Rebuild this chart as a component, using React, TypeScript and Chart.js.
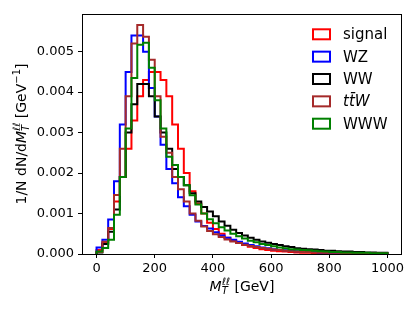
import React, { useEffect, useRef } from "react";
import { Chart, registerables } from "chart.js";

Chart.register(...registerables);

// Bin lower edges (GeV), bin width 20 GeV
const binLow = [
  0, 20, 40, 60, 80, 100, 120, 140, 160, 180, 200, 220, 240, 260, 280, 300, 320, 340, 360, 380,
  400, 420, 440, 460, 480, 500, 520, 540, 560, 580, 600, 620, 640, 660, 680, 700, 720, 740, 760, 780,
  800, 820, 840, 860, 880, 900, 920, 940, 960, 980,
];
const binHighEnd = 1000;

const xTicks = [0, 200, 400, 600, 800, 1000];
const yTicks = [0, 0.001, 0.002, 0.003, 0.004, 0.005];

const signal = [
  0.0001, 0.00027, 0.00062, 0.0013, 0.0019, 0.0026, 0.0033, 0.0039, 0.0043, 0.0045,
  0.0045, 0.0043, 0.0039, 0.0032, 0.0026, 0.002, 0.00155, 0.00125, 0.001, 0.00077,
  0.00062, 0.0005, 0.0004, 0.00033, 0.00027, 0.00022, 0.00018, 0.00015, 0.00012, 0.0001,
  0.00008, 0.00007, 0.00006, 0.00005, 0.00004, 0.00003, 0.00003, 0.00002, 0.00002, 0.00002,
  0.00001, 0.00001, 0.00001, 0.00001, 0.00001, 0.00001, 0.00001, 0.00001, 0.00001, 0.00001,
];
const wz = [
  0.00016, 0.00035, 0.00085, 0.0018, 0.0032, 0.0045, 0.0054, 0.0054, 0.005, 0.0041,
  0.0034, 0.0027, 0.0021, 0.00175, 0.0014, 0.00118, 0.00097, 0.0008, 0.00069, 0.00063,
  0.00054, 0.00046, 0.0004, 0.00035, 0.0003, 0.00026, 0.00022, 0.00019, 0.00016, 0.00014,
  0.00012, 0.0001, 0.00009, 0.00008, 0.00007, 0.00006, 0.00005, 0.00005, 0.00004, 0.00004,
  0.00003, 0.00003, 0.00003, 0.00002, 0.00002, 0.00002, 0.00002, 0.00001, 0.00001, 0.00001,
];
const ww = [
  0.00004, 0.00025, 0.00055, 0.0011, 0.0019, 0.003, 0.0037, 0.0042, 0.0042, 0.0039,
  0.0034, 0.003, 0.0026, 0.0021, 0.0019, 0.0017, 0.0015, 0.0013, 0.00116, 0.00105,
  0.00093, 0.0008, 0.0007, 0.0006, 0.00052, 0.00046, 0.0004, 0.00035, 0.00031, 0.00028,
  0.00025, 0.00022, 0.00019, 0.00017, 0.00014, 0.00013, 0.00012, 0.00011, 0.0001, 0.00008,
  0.00008, 0.00007, 0.00006, 0.00006, 0.00005, 0.00005, 0.00004, 0.00004, 0.00003, 0.00003,
];
const ttw = [
  0.00005, 0.0003, 0.00064, 0.00146, 0.0026, 0.0039, 0.0052, 0.00566, 0.00537, 0.0048,
  0.0039, 0.0029, 0.0025, 0.0019, 0.0016, 0.0013, 0.001, 0.00082, 0.00068, 0.00057,
  0.00049, 0.00042, 0.00036, 0.00031, 0.00027, 0.00023, 0.0002, 0.00017, 0.00015, 0.00013,
  0.00011, 0.0001, 0.00008, 0.00007, 0.00006, 0.00005, 0.00005, 0.00004, 0.00004, 0.00003,
  0.00003, 0.00003, 0.00002, 0.00002, 0.00002, 0.00002, 0.00001, 0.00001, 0.00001, 0.00001,
];
const www = [
  0.00006, 0.00015, 0.00035, 0.00097, 0.0019, 0.0031, 0.00435, 0.00517, 0.00522, 0.0046,
  0.0038, 0.0031, 0.0024, 0.0022, 0.0019, 0.0017, 0.00145, 0.00122, 0.001, 0.00086,
  0.00076, 0.00066, 0.00058, 0.0005, 0.00044, 0.00038, 0.00033, 0.00029, 0.00025, 0.00022,
  0.00019, 0.00016, 0.00014, 0.00012, 0.00011, 0.0001, 0.00009, 0.00008, 0.00007, 0.00006,
  0.00005, 0.00005, 0.00004, 0.00004, 0.00003, 0.00003, 0.00003, 0.00002, 0.00002, 0.00002,
];

const seriesLabels = ["signal", "WZ", "WW", "tt\u0304W", "WWW"];
const seriesColors = ["#ff0000", "#0000ff", "#000000", "#a52a2a", "#008000"];
const seriesValues = [signal, wz, ww, ttw, www];

const FONT = "DejaVu Sans";

function stepPoints(values: number[]) {
  const pts: { x: number; y: number }[] = [{ x: binLow[0], y: 0 }];
  values.forEach((v, i) => pts.push({ x: binLow[i], y: v }));
  pts.push({ x: binHighEnd, y: values[values.length - 1] });
  pts.push({ x: binHighEnd, y: 0 });
  return pts;
}

type Seg =
  | { kind: "t"; text: string; font: string; dy?: number }
  | { kind: "ss"; sub: string; sup: string; font: string; subDy: number; supDy: number };

function segWidth(ctx: CanvasRenderingContext2D, s: Seg) {
  ctx.font = s.font;
  if (s.kind === "t") return ctx.measureText(s.text).width;
  return Math.max(ctx.measureText(s.sub).width, ctx.measureText(s.sup).width);
}

function drawRich(ctx: CanvasRenderingContext2D, segs: Seg[], startX: number) {
  let x = startX;
  for (const s of segs) {
    ctx.font = s.font;
    if (s.kind === "t") {
      ctx.fillText(s.text, x, s.dy || 0);
    } else {
      ctx.fillText(s.sub, x, s.subDy);
      ctx.fillText(s.sup, x, s.supDy);
    }
    x += segWidth(ctx, s);
  }
}

function richWidth(ctx: CanvasRenderingContext2D, segs: Seg[]) {
  return segs.reduce((a, s) => a + segWidth(ctx, s), 0);
}

const titleSize = 14;
const smallSize = 10;
const nf = `${titleSize}px '${FONT}'`;
const itf = `italic ${titleSize}px '${FONT}'`;
const sitf = `italic ${smallSize}px '${FONT}'`;
const snf = `${smallSize}px '${FONT}'`;

const xTitle: Seg[] = [
  { kind: "t", text: "M", font: itf },
  { kind: "ss", sub: "T", sup: "\u2113\u2113", font: sitf, subDy: 3, supDy: -6 },
  { kind: "t", text: " [GeV]", font: nf },
];
const yTitle: Seg[] = [
  { kind: "t", text: "1/N dN/d", font: nf },
  { kind: "t", text: "M", font: itf },
  { kind: "ss", sub: "T", sup: "\u2113\u2113", font: sitf, subDy: 3, supDy: -6 },
  { kind: "t", text: " [GeV", font: nf },
  { kind: "t", text: "\u22121", font: snf, dy: -6 },
  { kind: "t", text: "]", font: nf },
];

const decorPlugin = {
  id: "decor",
  afterDraw(chart: any) {
    const ctx: CanvasRenderingContext2D = chart.ctx;
    const a = chart.chartArea;
    ctx.save();
    // frame
    ctx.strokeStyle = "#000";
    ctx.lineWidth = 1;
    ctx.strokeRect(Math.round(a.left) + 0.5, Math.round(a.top) + 0.5, Math.round(a.right - a.left) - 1, Math.round(a.bottom - a.top));
    ctx.fillStyle = "#000";
    ctx.textBaseline = "alphabetic";
    ctx.textAlign = "left";
    // x title
    ctx.save();
    const cx = (a.left + a.right) / 2;
    ctx.translate(cx, 291);
    drawRich(ctx, xTitle, -richWidth(ctx, xTitle) / 2);
    ctx.restore();
    // y title
    ctx.save();
    const cy = (a.top + a.bottom) / 2;
    ctx.translate(26, cy);
    ctx.rotate(-Math.PI / 2);
    drawRich(ctx, yTitle, -richWidth(ctx, yTitle) / 2);
    ctx.restore();
    // legend
    const boxX = 313;
    const boxW = 17;
    const boxH = 10;
    const textX = 343;
    const y0 = 34.3;
    const dy = 22.35;
    ctx.textBaseline = "middle";
    seriesLabels.forEach((lab, i) => {
      const y = y0 + i * dy;
      ctx.strokeStyle = seriesColors[i];
      ctx.lineWidth = 2;
      ctx.lineJoin = "miter";
      ctx.strokeRect(boxX, y - boxH / 2, boxW, boxH);
      ctx.fillStyle = "#000";
      ctx.font = i === 3 ? `italic 15px '${FONT}'` : `15px '${FONT}'`;
      ctx.fillText(lab, textX, y + 1);
    });
    ctx.restore();
  },
};

export default function App() {
  const ref = useRef<HTMLCanvasElement | null>(null);
  useEffect(() => {
    if (!ref.current) return;
    const datasets = seriesValues.map((vals, i) => ({
      label: seriesLabels[i],
      data: stepPoints(vals),
      borderColor: seriesColors[i],
      backgroundColor: "transparent",
      borderWidth: 2,
      pointRadius: 0,
      stepped: "before" as const,
      fill: false,
      borderJoinStyle: "miter" as const,
      order: seriesValues.length - i,
    }));
    const chart = new Chart(ref.current, {
      type: "line",
      data: { datasets },
      options: {
        responsive: false,
        animation: false,
        layout: { padding: { left: 0, right: 13, top: 14, bottom: 0 } },
        plugins: { legend: { display: false }, tooltip: { enabled: false } },
        scales: {
          x: {
            type: "linear",
            min: -50,
            max: 1050,
            afterBuildTicks: (axis: any) => {
              axis.ticks = xTicks.map((v) => ({ value: v }));
            },
            afterFit: (axis: any) => {
              axis.height = 58;
            },
            grid: { display: true, drawOnChartArea: false, drawTicks: true, tickLength: 4, color: "#000" },
            border: { display: false },
            ticks: {
              color: "#000",
              font: { family: FONT, size: 13 },
              padding: 3,
              maxRotation: 0,
              autoSkip: false,
              callback: (v: any) => String(v),
            },
          },
          y: {
            type: "linear",
            min: 0,
            max: 0.00593,
            afterBuildTicks: (axis: any) => {
              axis.ticks = yTicks.map((v) => ({ value: v }));
            },
            afterFit: (axis: any) => {
              axis.width = 82;
            },
            grid: { display: true, drawOnChartArea: false, drawTicks: true, tickLength: 4, color: "#000" },
            border: { display: false },
            ticks: {
              color: "#000",
              font: { family: FONT, size: 13 },
              padding: 4,
              autoSkip: false,
              callback: (v: any) => Number(v).toFixed(3),
            },
          },
        },
      },
      plugins: [decorPlugin],
    } as any);
    return () => chart.destroy();
  }, []);
  return (
    <div style={{ position: "fixed", left: 0, top: 0, width: 415, height: 312, background: "#fff" }}>
      <canvas ref={ref} width={415} height={312} />
    </div>
  );
}
